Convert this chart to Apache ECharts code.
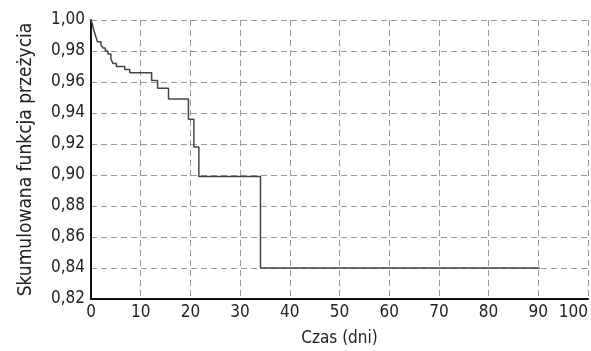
<!DOCTYPE html>
<html>
<head>
<meta charset="utf-8">
<script src="https://cdn.jsdelivr.net/npm/echarts@6/dist/echarts.min.js"></script>
<style>
  html, body { margin: 0; padding: 0; background: #fff; }
  #chart { width: 591px; height: 351px; }
</style>
</head>
<body>
<div id="chart"></div>
<script>
// czas zdarzenia (dni) i skumulowane przezycie po zdarzeniu
var times = [0, 0.3, 0.6, 0.9, 1.3, 2.0, 2.4, 2.9, 3.4, 4.0, 4.4, 5.1, 6.8, 7.8,
  12.2, 13.4, 15.6, 19.6, 20.7, 21.7, 34.1, 90.3];
var survival = [1.000, 0.997, 0.993, 0.990, 0.986, 0.984, 0.982, 0.980, 0.978, 0.975, 0.972, 0.970, 0.968, 0.966,
  0.961, 0.956, 0.949, 0.936, 0.918, 0.899, 0.840, 0.840];

var font = '"DejaVu Sans Condensed", "Liberation Sans Narrow", sans-serif';

var myChart = echarts.init(document.getElementById('chart'));
myChart.setOption({
  animation: false,
  grid: { left: 91, right: 3, top: 20, bottom: 52, outerBoundsMode: 'none' },
  xAxis: {
    type: 'value',
    min: 0,
    max: 100,
    interval: 10,
    name: 'Czas (dni)',
    nameLocation: 'middle',
    nameGap: 31,
    nameTextStyle: { color: '#222', fontSize: 17, fontFamily: font },
    axisLine: { lineStyle: { color: '#111', width: 2 } },
    axisTick: { show: false },
    axisLabel: { color: '#222', fontSize: 17, fontFamily: font, margin: 5, alignMaxLabel: 'right' },
    splitLine: { lineStyle: { color: '#999', type: [6, 4], width: 1 } }
  },
  yAxis: {
    type: 'value',
    min: 0.82,
    max: 1.00,
    interval: 0.02,
    name: 'Skumulowana funkcja przeżycia',
    nameLocation: 'middle',
    nameGap: 55,
    nameTextStyle: { color: '#222', fontSize: 19, fontFamily: font },
    axisLine: { show: true, lineStyle: { color: '#111', width: 2 } },
    axisTick: { show: false },
    axisLabel: {
      color: '#222', fontSize: 17, fontFamily: font, margin: 6,
      formatter: function (v) { return v.toFixed(2).replace('.', ','); }
    },
    splitLine: { lineStyle: { color: '#999', type: [6, 4], width: 1 } }
  },
  series: [{
    type: 'line',
    step: 'end',
    symbol: 'none',
    lineStyle: { color: '#444', width: 1.5 },
    data: times.map(function (t, i) { return [t, survival[i]]; })
  }]
});
</script>
</body>
</html>
